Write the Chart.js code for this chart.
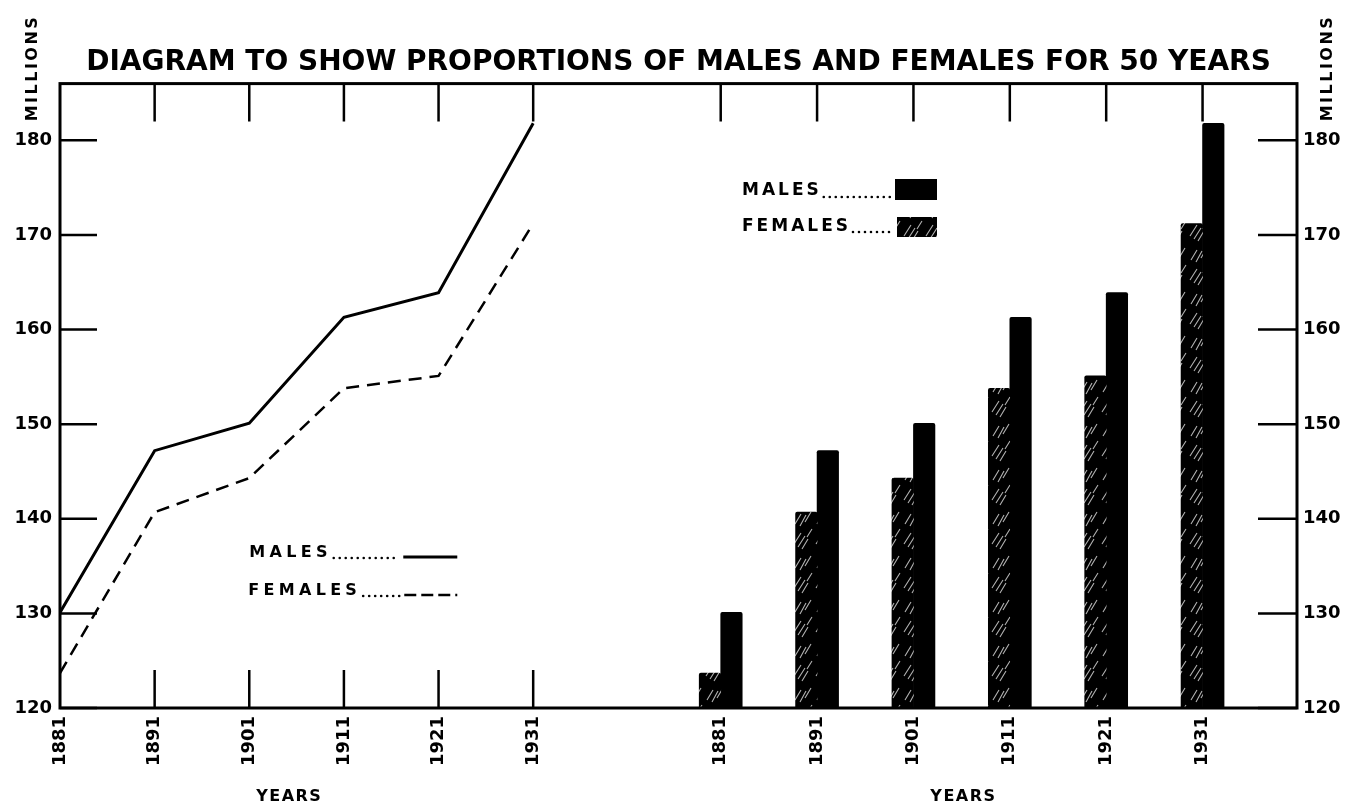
<!DOCTYPE html>
<html>
<head>
<meta charset="utf-8">
<title>Males and Females 1881-1931</title>
<script src="https://cdn.jsdelivr.net/npm/chart.js@4.4.1/dist/chart.umd.min.js"></script>
<style>
  html, body { margin: 0; padding: 0; background: #fff; }
  #wrap { width: 1347px; height: 806px; position: relative; }
</style>
</head>
<body>
<div id="wrap"><canvas id="diagram"></canvas></div>
<script>
// census years and population in millions
const years = [1881, 1891, 1901, 1911, 1921, 1931];
const males = [130.1, 147.2, 150.1, 161.3, 163.9, 181.8];
const females = [123.7, 140.7, 144.3, 153.8, 155.1, 171.2];
const yTicks = [120, 130, 140, 150, 160, 170, 180];

const INK = '#000';
const FONT = "'DejaVu Sans', 'Liberation Sans', sans-serif";

// black fill broken up by short white diagonal strokes
function hatchPattern() {
    const c = document.createElement('canvas');
    c.width = 22;
    c.height = 44;
    const g = c.getContext('2d');
    g.fillStyle = INK;
    g.fillRect(0, 0, c.width, c.height);
    g.strokeStyle = 'rgba(255,255,255,0.7)';
    g.lineWidth = 1.1;
    const strokes = [
        [2, 16, 9, 5], [6, 19, 13, 8], [10, 21, 16, 11],
        [3, 40, 9, 30], [8, 42, 14, 31], [13, 38, 19, 28],
        [15, 9, 20, 1]
    ];
    g.beginPath();
    strokes.forEach(s => {
        g.moveTo(s[0], s[1]);
        g.lineTo(s[2], s[3]);
    });
    g.stroke();
    return g.createPattern(c, 'repeat');
}

const hatch = hatchPattern();

function spacedText(ctx, text, x, y, size, spacing) {
    ctx.font = 'bold ' + size + 'px ' + FONT;
    ctx.letterSpacing = spacing + 'px';
    ctx.fillText(text, x, y);
    const w = ctx.measureText(text).width;
    ctx.letterSpacing = '0px';
    return x + w;
}

function dotLeader(ctx, x0, x1, y) {
    for (let x = x0; x <= x1; x += 6) {
        ctx.beginPath();
        ctx.arc(x, y, 1.3, 0, Math.PI * 2);
        ctx.fill();
    }
}

function verticalLabel(ctx, text, x, y) {
    ctx.save();
    ctx.translate(x, y);
    ctx.rotate(-Math.PI / 2);
    ctx.textAlign = 'center';
    ctx.textBaseline = 'middle';
    spacedText(ctx, text, 0, 0, 16, 2.5);
    ctx.restore();
}

// frame, inward tick marks, hand-made legends and side captions
const diagramFrame = {
    id: 'diagramFrame',
    afterDraw(chart) {
        const ctx = chart.ctx;
        const area = chart.chartArea;
        const xl = chart.scales.x;
        const xb = chart.scales.xb;
        const y = chart.scales.y;
        const tick = 38;

        ctx.save();
        ctx.strokeStyle = INK;
        ctx.fillStyle = INK;

        ctx.lineWidth = 3;
        ctx.strokeRect(area.left, area.top, area.right - area.left, area.bottom - area.top);

        ctx.lineWidth = 2.5;
        ctx.beginPath();
        years.forEach((yr, i) => {
            const pl = xl.getPixelForValue(yr);
            const pb = xb.getPixelForValue(yr);
            if (i > 0) {
                ctx.moveTo(pl, area.top);
                ctx.lineTo(pl, area.top + tick);
                ctx.moveTo(pl, area.bottom);
                ctx.lineTo(pl, area.bottom - tick);
            }
            ctx.moveTo(pb, area.top);
            ctx.lineTo(pb, area.top + tick);
        });
        yTicks.forEach(v => {
            const py = y.getPixelForValue(v);
            ctx.moveTo(area.left, py);
            ctx.lineTo(area.left + 37, py);
            ctx.moveTo(area.right - 39, py);
            ctx.lineTo(area.right, py);
        });
        ctx.stroke();

        // line legend
        ctx.textAlign = 'left';
        ctx.textBaseline = 'middle';
        const lx = xl.getPixelForValue(1901);
        let end = spacedText(ctx, 'MALES', lx, 553, 16, 4.3);
        dotLeader(ctx, end + 2, lx + 146, 558);
        ctx.lineWidth = 3;
        ctx.beginPath();
        ctx.moveTo(lx + 154, 557);
        ctx.lineTo(lx + 208, 557);
        ctx.stroke();
        end = spacedText(ctx, 'FEMALES', lx - 1, 591, 16, 4.3);
        dotLeader(ctx, end + 2, lx + 150, 596);
        ctx.lineWidth = 2.5;
        ctx.setLineDash([12, 5]);
        ctx.beginPath();
        ctx.moveTo(lx + 155, 595);
        ctx.lineTo(lx + 208, 595);
        ctx.stroke();
        ctx.setLineDash([]);

        // bar legend
        const bx = 742;
        end = spacedText(ctx, 'MALES', bx, 191, 17, 3);
        dotLeader(ctx, end + 2, 890, 197);
        ctx.fillStyle = INK;
        ctx.fillRect(895, 179, 42, 21);
        end = spacedText(ctx, 'FEMALES', bx, 227, 17, 3);
        dotLeader(ctx, end + 2, 890, 232);
        ctx.fillStyle = hatch;
        ctx.fillRect(897, 217, 40, 20);
        ctx.fillStyle = INK;

        // axis captions
        verticalLabel(ctx, 'MILLIONS', 33, 68);
        verticalLabel(ctx, 'MILLIONS', 1328, 68);

        ctx.textAlign = 'center';
        spacedText(ctx, 'YEARS', xl.getPixelForValue(1901) + 40, 797, 16, 1.5);
        spacedText(ctx, 'YEARS', xb.getPixelForValue(1901) + 50, 797, 16, 1.5);
        ctx.restore();
    }
};

Chart.defaults.font.family = FONT;
Chart.defaults.font.weight = 'bold';
Chart.defaults.color = INK;

const yearTickOptions = {
    autoSkip: false,
    minRotation: 90,
    maxRotation: 90,
    padding: 8,
    font: { size: 18, weight: 'bold' },
    callback: v => String(v)
};

const valueTickOptions = {
    font: { size: 18, weight: 'bold' },
    callback: v => String(v)
};

new Chart(document.getElementById('diagram'), {
    type: 'bar',
    data: {
        datasets: [
            {
                type: 'line',
                label: 'MALES',
                xAxisID: 'x',
                data: years.map((yr, i) => ({ x: yr, y: males[i] })),
                borderColor: INK,
                borderWidth: 3,
                pointRadius: 0,
                tension: 0,
                fill: false
            },
            {
                type: 'line',
                label: 'FEMALES',
                xAxisID: 'x',
                data: years.map((yr, i) => ({ x: yr, y: females[i] })),
                borderColor: INK,
                borderWidth: 2.5,
                borderDash: [13, 8],
                pointRadius: 0,
                tension: 0,
                fill: false
            },
            {
                label: 'FEMALES',
                xAxisID: 'xb',
                data: years.map((yr, i) => ({ x: yr, y: females[i] })),
                backgroundColor: hatch,
                base: yTicks[0],
                borderRadius: 2,
                barThickness: 21.5
            },
            {
                label: 'MALES',
                xAxisID: 'xb',
                data: years.map((yr, i) => ({ x: yr, y: males[i] })),
                backgroundColor: INK,
                base: yTicks[0],
                borderRadius: 2,
                barThickness: 21.5
            }
        ]
    },
    options: {
        responsive: true,
        maintainAspectRatio: false,
        animation: false,
        layout: { padding: 0 },
        plugins: {
            legend: { display: false },
            tooltip: { enabled: false },
            title: {
                display: true,
                fullSize: false,
                text: 'DIAGRAM TO SHOW PROPORTIONS OF MALES AND FEMALES FOR 50 YEARS',
                color: INK,
                font: { size: 28, weight: 'bold' },
                padding: { top: 46, bottom: 4 }
            }
        },
        scales: {
            x: {
                type: 'linear',
                position: 'bottom',
                stack: 'years',
                stackWeight: 600,
                offset: false,
                min: 1881,
                max: 1944.4,
                grid: { display: false, drawTicks: false, offset: false },
                border: { display: false },
                afterBuildTicks: s => { s.ticks = years.map(v => ({ value: v })); },
                afterFit: s => { s.height = 98; },
                ticks: yearTickOptions
            },
            xb: {
                type: 'linear',
                position: 'bottom',
                stack: 'years',
                stackWeight: 637,
                offset: false,
                min: 1874.7,
                max: 1940.8,
                grid: { display: false, drawTicks: false, offset: false },
                border: { display: false },
                afterBuildTicks: s => { s.ticks = years.map(v => ({ value: v })); },
                afterFit: s => { s.height = 98; },
                ticks: yearTickOptions
            },
            y: {
                position: 'left',
                min: 120,
                max: 186,
                grid: { display: false, drawTicks: false },
                border: { display: false },
                afterBuildTicks: s => { s.ticks = yTicks.map(v => ({ value: v })); },
                afterFit: s => { s.width = 60; },
                ticks: Object.assign({ padding: 8 }, valueTickOptions)
            },
            y2: {
                position: 'right',
                min: 120,
                max: 186,
                grid: { display: false, drawTicks: false },
                border: { display: false },
                afterBuildTicks: s => { s.ticks = yTicks.map(v => ({ value: v })); },
                afterFit: s => { s.width = 50; },
                ticks: Object.assign({ padding: 6 }, valueTickOptions)
            }
        }
    },
    plugins: [diagramFrame]
});
</script>
</body>
</html>
